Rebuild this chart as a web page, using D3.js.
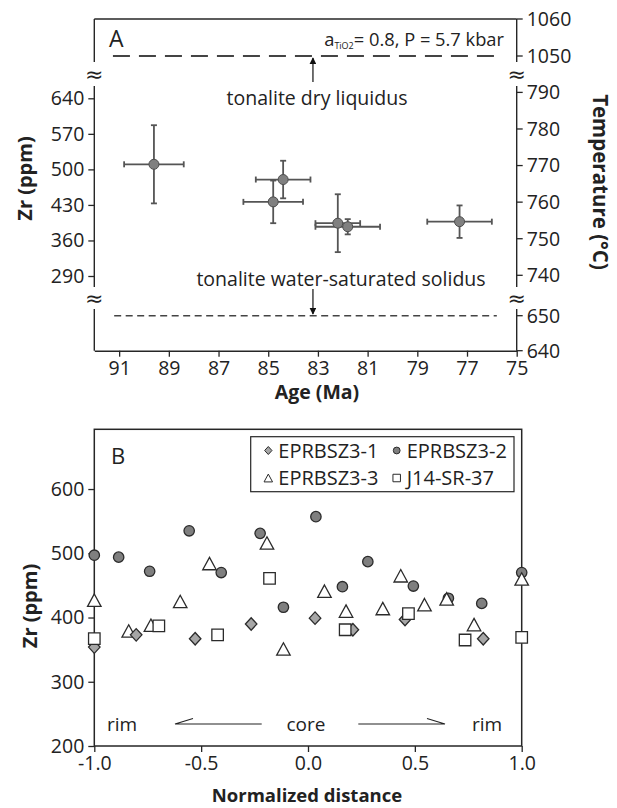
<!DOCTYPE html>
<html>
<head>
<meta charset="utf-8">
<script src="https://cdn.jsdelivr.net/npm/d3@7"></script>
<style>
  body { margin: 0; background: #fff; }
  text { font-family: "Open Sans", "DejaVu Sans", sans-serif; fill: #222; }
</style>
</head>
<body>
<svg id="chart" width="617" height="808"></svg>
<script>
// ---- Panel A data: zircon Zr vs age ----
const ageA = [89.6, 84.4, 84.8, 82.2, 81.8, 77.3];
const ageErrA = [1.2, 1.1, 1.2, 0.9, 1.3, 1.3];
const zrA = [510, 480, 436, 394, 387, 397];
const zrErrA = [77, 37, 42, 57, 15, 32];

const ageTicks = [91, 89, 87, 85, 83, 81, 79, 77, 75];
const zrTicks = [640, 570, 500, 430, 360, 290];
const tempTicks = [1060, 1050, 790, 780, 770, 760, 750, 740, 650, 640];

const dryLiquidus = 1050;
const wetSolidus = 650;

// ---- Panel B data: Zr profiles across crystals ----
const posB1 = [-1.0, -0.804, -0.528, -0.266, 0.033, 0.21, 0.454, 0.82];
const zrB1 = [354, 373, 367, 390, 399, 381, 397, 367];

const posB2 = [-1.0, -0.886, -0.741, -0.556, -0.406, -0.224, -0.115, 0.037, 0.161, 0.28, 0.493, 0.657, 0.813, 1.0];
const zrB2 = [497, 494, 472, 535, 470, 531, 416, 557, 448, 487, 449, 430, 422, 470];

const posB3 = [-1.0, -0.839, -0.735, -0.598, -0.461, -0.192, -0.115, 0.077, 0.178, 0.35, 0.434, 0.545, 0.649, 0.777, 1.0];
const zrB3 = [427, 379, 388, 425, 484, 516, 351, 441, 410, 414, 465, 420, 429, 389, 460];

const posB4 = [-1.0, -0.698, -0.423, -0.18, 0.174, 0.47, 0.735, 1.0];
const zrB4 = [367, 387, 373, 461, 381, 406, 365, 369];

const zrTicksB = [200, 300, 400, 500, 600];
const posTicksB = [-1, -0.5, 0, 0.5, 1];
const seriesNames = ['EPRBSZ3-1', 'EPRBSZ3-2', 'EPRBSZ3-3', 'J14-SR-37'];

const svg = d3.select('#chart');
const ink = '#262626';
const barColor = '#555';
const tickFont = 19.5;

svg.append('defs').append('marker')
    .attr('id', 'head')
    .attr('viewBox', '0 0 10 10')
    .attr('refX', 9).attr('refY', 5)
    .attr('markerWidth', 7).attr('markerHeight', 7)
    .attr('markerUnits', 'userSpaceOnUse')
    .attr('orient', 'auto')
    .append('path').attr('d', 'M0,0L10,5L0,10Z').attr('fill', '#111');

// =================== Panel A ===================
const xA = d3.scaleLinear().domain([92, 75]).range([94.3, 516.7]);
const yZr = d3.scaleLinear().domain([290, 640]).range([276, 98.3]);
// broken temperature axis: three pieces
const tTop = d3.scaleLinear().domain([1050, 1060]).range([56, 19]);
const tMid = d3.scaleLinear().domain([740, 790]).range([275.3, 92.4]);
const tBot = d3.scaleLinear().domain([640, 650]).range([350.7, 315.7]);
const tempY = t => t >= 1000 ? tTop(t) : (t >= 700 ? tMid(t) : tBot(t));

const gA = svg.append('g');
const topY = 19, botY = 350.7;
const left = xA.range()[0], right = xA.range()[1];
const breaks = [[62, 86], [287, 309]];

// top frame
gA.append('line').attr('x1', left).attr('x2', right).attr('y1', topY).attr('y2', topY)
    .attr('stroke', ink).attr('stroke-width', 1.4);

// side axes with gaps at the breaks
[left, right].forEach(x => {
    const segs = [[topY, breaks[0][0]], [breaks[0][1], breaks[1][0]], [breaks[1][1], botY]];
    segs.forEach(s => {
        gA.append('line').attr('x1', x).attr('x2', x).attr('y1', s[0]).attr('y2', s[1])
            .attr('stroke', ink).attr('stroke-width', 1.4);
    });
    [74, 298].forEach(y => {
        gA.append('text').attr('x', x).attr('y', y)
            .attr('text-anchor', 'middle').attr('dominant-baseline', 'central')
            .attr('font-size', 22).style('font-family', '"DejaVu Sans", sans-serif')
            .text('\u2248');
    });
});

// bottom axis
const axA = gA.append('g').attr('transform', `translate(0,${botY})`)
    .call(d3.axisBottom(xA).tickValues(ageTicks).tickSize(6).tickSizeOuter(0).tickPadding(4));
axA.select('.domain').attr('stroke', ink).attr('stroke-width', 1.4);
axA.selectAll('.tick line').attr('stroke', ink).attr('stroke-width', 1.3);
axA.selectAll('.tick text').attr('font-size', tickFont).style('font-family', null);

// left Zr axis
const ayA = gA.append('g').attr('transform', `translate(${left},0)`)
    .call(d3.axisLeft(yZr).tickValues(zrTicks).tickSize(6).tickPadding(4));
ayA.select('.domain').remove();
ayA.selectAll('.tick line').attr('stroke', ink).attr('stroke-width', 1.3);
ayA.selectAll('.tick text').attr('font-size', tickFont).style('font-family', null);

// right temperature axis
const tg = gA.append('g').selectAll('g').data(tempTicks).enter().append('g')
    .attr('transform', d => `translate(${right},${tempY(d)})`);
tg.append('line').attr('x2', 6).attr('stroke', ink).attr('stroke-width', 1.3);
tg.append('text').attr('x', 10).attr('dy', '0.35em').attr('font-size', tickFont).text(d => d);

// reference lines
gA.append('line')
    .attr('x1', xA(91.25)).attr('x2', xA(75.6))
    .attr('y1', tempY(dryLiquidus)).attr('y2', tempY(dryLiquidus))
    .attr('stroke', '#444').attr('stroke-width', 2).attr('stroke-dasharray', '17,9');
gA.append('line')
    .attr('x1', xA(91.2)).attr('x2', xA(75.8))
    .attr('y1', tempY(wetSolidus)).attr('y2', tempY(wetSolidus))
    .attr('stroke', '#444').attr('stroke-width', 1.6).attr('stroke-dasharray', '7,4.5');

// arrows + labels
gA.append('line').attr('x1', xA(83.2)).attr('x2', xA(83.2)).attr('y1', 82).attr('y2', 58)
    .attr('stroke', '#111').attr('stroke-width', 1.2).attr('marker-end', 'url(#head)');
gA.append('line').attr('x1', xA(83.2)).attr('x2', xA(83.2)).attr('y1', 289).attr('y2', 314)
    .attr('stroke', '#111').attr('stroke-width', 1.2).attr('marker-end', 'url(#head)');
gA.append('text').attr('x', 317).attr('y', 98).attr('dy', '0.35em')
    .attr('text-anchor', 'middle').attr('font-size', 19.5).text('tonalite dry liquidus');
gA.append('text').attr('x', 341).attr('y', 279.5).attr('dy', '0.35em')
    .attr('text-anchor', 'middle').attr('font-size', 19.5).text('tonalite water-saturated solidus');

gA.append('text').attr('x', 109).attr('y', 47).attr('font-size', 23).text('A');
const cond = gA.append('text').attr('x', 504).attr('y', 46).attr('text-anchor', 'end').attr('font-size', 18.3);
cond.append('tspan').text('a');
cond.append('tspan').attr('font-size', 9).attr('dy', 3).text('TiO2');
cond.append('tspan').attr('dy', -3).text('= 0.8, P = 5.7 kbar');

// error bars and points
const ptsA = ageA.map((a, i) => ({ age: a, ageErr: ageErrA[i], zr: zrA[i], zrErr: zrErrA[i] }));
const eb = gA.append('g').selectAll('g').data(ptsA).enter().append('g')
    .attr('stroke', barColor).attr('stroke-width', 1.8);
eb.append('line')
    .attr('x1', d => xA(d.age + d.ageErr)).attr('x2', d => xA(d.age - d.ageErr))
    .attr('y1', d => yZr(d.zr)).attr('y2', d => yZr(d.zr));
eb.append('line')
    .attr('x1', d => xA(d.age)).attr('x2', d => xA(d.age))
    .attr('y1', d => yZr(d.zr + d.zrErr)).attr('y2', d => yZr(d.zr - d.zrErr));
[-1, 1].forEach(s => {
    eb.append('line')
        .attr('x1', d => xA(d.age + s * d.ageErr)).attr('x2', d => xA(d.age + s * d.ageErr))
        .attr('y1', d => yZr(d.zr) - 3).attr('y2', d => yZr(d.zr) + 3);
    eb.append('line')
        .attr('x1', d => xA(d.age) - 3).attr('x2', d => xA(d.age) + 3)
        .attr('y1', d => yZr(d.zr + s * d.zrErr)).attr('y2', d => yZr(d.zr + s * d.zrErr));
});
gA.append('g').selectAll('circle').data(ptsA).enter().append('circle')
    .attr('cx', d => xA(d.age)).attr('cy', d => yZr(d.zr)).attr('r', 5)
    .attr('fill', '#808080').attr('stroke', '#4d4d4d').attr('stroke-width', 1);

// axis titles
gA.append('text').attr('x', 317).attr('y', 392).attr('dy', '0.35em').attr('text-anchor', 'middle')
    .attr('font-size', 19.5).attr('font-weight', 'bold').text('Age (Ma)');
gA.append('text').attr('transform', 'translate(25,178.5) rotate(-90)').attr('dy', '0.35em')
    .attr('text-anchor', 'middle').attr('font-size', 20).attr('font-weight', 'bold').text('Zr (ppm)');
gA.append('text').attr('transform', 'translate(600,182) rotate(90)').attr('dy', '0.35em')
    .attr('text-anchor', 'middle').attr('font-size', 20.5).attr('font-weight', 'bold').text('Temperature (\u00b0C)');

// =================== Panel B ===================
const xB = d3.scaleLinear().domain([-1, 1]).range([94.3, 521.7]);
const yB = d3.scaleLinear().domain([200, 693]).range([746, 429.3]);
const gB = svg.append('g');

const axB = gB.append('g').attr('transform', `translate(0,${yB(200)})`)
    .call(d3.axisBottom(xB).tickValues(posTicksB).tickSize(6).tickPadding(4).tickFormat(d => d.toFixed(1)));
axB.selectAll('.tick line').attr('stroke', ink).attr('stroke-width', 1.3);
axB.selectAll('.tick text').attr('font-size', tickFont).style('font-family', null);
axB.select('.domain').remove();

const ayB = gB.append('g').attr('transform', `translate(${xB(-1)},0)`)
    .call(d3.axisLeft(yB).tickValues(zrTicksB).tickSize(6).tickPadding(4));
ayB.selectAll('.tick line').attr('stroke', ink).attr('stroke-width', 1.3);
ayB.selectAll('.tick text').attr('font-size', tickFont).style('font-family', null);
ayB.select('.domain').remove();

gB.append('rect')
    .attr('x', xB(-1)).attr('y', yB(693))
    .attr('width', xB(1) - xB(-1)).attr('height', yB(200) - yB(693))
    .attr('fill', 'none').attr('stroke', ink).attr('stroke-width', 1.5);

const triPath = s => `M0,${-s * 0.46}L${s / 2},${s * 0.46}L${-s / 2},${s * 0.46}Z`;
const diaPath = s => `M0,${-s / 2}L${s * 0.46},0L0,${s / 2}L${-s * 0.46},0Z`;
const sqPath = s => `M${-s / 2},${-s / 2}h${s}v${s}h${-s}Z`;
const circPath = r => d3.symbol(d3.symbolCircle, Math.PI * r * r)();

const styles = [
    { path: diaPath(12.5), legend: diaPath(8), fill: '#a6a6a6' },
    { path: circPath(5.2), legend: circPath(3.4), fill: '#7f7f7f' },
    { path: triPath(13.5), legend: triPath(8.5), fill: '#fff' },
    { path: sqPath(11.5), legend: sqPath(7.5), fill: '#fff' }
];
const seriesB = [
    posB1.map((p, i) => ({ p: p, zr: zrB1[i] })),
    posB2.map((p, i) => ({ p: p, zr: zrB2[i] })),
    posB3.map((p, i) => ({ p: p, zr: zrB3[i] })),
    posB4.map((p, i) => ({ p: p, zr: zrB4[i] }))
];

// draw order: circles, triangles, diamonds, squares
[1, 2, 0, 3].forEach(k => {
    gB.append('g').selectAll('path').data(seriesB[k]).enter().append('path')
        .attr('d', styles[k].path)
        .attr('transform', d => `translate(${xB(d.p)},${yB(d.zr)})`)
        .attr('fill', styles[k].fill).attr('stroke', '#2b2b2b').attr('stroke-width', 1.3);
});

// legend
const lg = gB.append('g');
lg.append('rect').attr('x', 250.7).attr('y', 436.7).attr('width', 263.3).attr('height', 55)
    .attr('fill', '#fff').attr('stroke', ink).attr('stroke-width', 1.2);
const legendPos = [[268.3, 450.5], [396.7, 450.5], [268.3, 478], [396.7, 478]];
seriesNames.forEach((name, k) => {
    const [lx, ly] = legendPos[k];
    lg.append('path').attr('d', styles[k].legend).attr('transform', `translate(${lx},${ly})`)
        .attr('fill', styles[k].fill).attr('stroke', '#2b2b2b').attr('stroke-width', 1);
    lg.append('text').attr('x', lx + 10).attr('y', ly).attr('dy', '0.35em')
        .attr('font-size', 20).text(name);
});

gB.append('text').attr('x', 111).attr('y', 464).attr('font-size', 22).text('B');

// rim / core annotation
const annY = 724;
gB.append('text').attr('x', 122).attr('y', annY).attr('dy', '0.35em').attr('text-anchor', 'middle')
    .attr('font-size', 19).text('rim');
gB.append('text').attr('x', 306).attr('y', annY).attr('dy', '0.35em').attr('text-anchor', 'middle')
    .attr('font-size', 19).text('core');
gB.append('text').attr('x', 487).attr('y', annY).attr('dy', '0.35em').attr('text-anchor', 'middle')
    .attr('font-size', 19).text('rim');
gB.append('path').attr('d', `M261.7,${annY}H175L193,${annY - 5.5}`)
    .attr('fill', 'none').attr('stroke', '#222').attr('stroke-width', 1.2);
gB.append('path').attr('d', `M358.3,${annY}H445L427,${annY - 5.5}`)
    .attr('fill', 'none').attr('stroke', '#222').attr('stroke-width', 1.2);

gB.append('text').attr('x', 307).attr('y', 796).attr('dy', '0.35em').attr('text-anchor', 'middle')
    .attr('font-size', 18.5).attr('font-weight', 'bold').text('Normalized distance');
gB.append('text').attr('transform', 'translate(30,606) rotate(-90)').attr('dy', '0.35em')
    .attr('text-anchor', 'middle').attr('font-size', 20).attr('font-weight', 'bold').text('Zr (ppm)');
</script>
</body>
</html>
